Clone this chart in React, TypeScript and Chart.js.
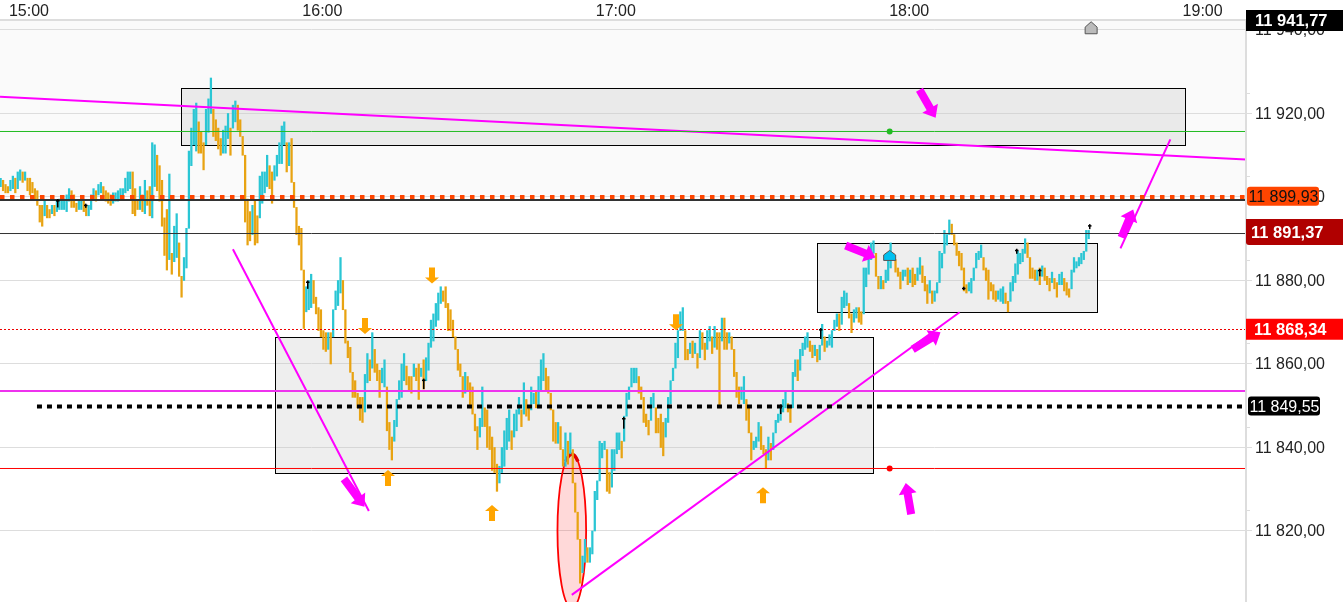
import React, { useEffect, useRef } from "react";
import { Chart, registerables } from "chart.js";

Chart.register(...registerables);

const FONT = '"Liberation Sans", Arial, sans-serif';

const timeTicks = [0, 60, 120, 180, 240];
const timeLabels = ["15:00", "16:00", "17:00", "18:00", "19:00"];
const priceTicks = [11820, 11840, 11860, 11880, 11900, 11920, 11940];
const priceLabels = ["11 820,00", "11 840,00", "11 860,00", "11 880,00", "11 900,00", "11 920,00", "11 940,00"];
const minorPriceTicks = [11825, 11845, 11865, 11885, 11905, 11925];

const sessionStarts = [-6, 60, 120, 180];
const barStep = 0.5;

// [high, low] per half-minute bar
const bars15: number[][] = [
[11904.5,11902.5],[11904,11901.5],[11903,11901],[11902.5,11901],[11904,11901.5],[11905,11902],[11904.5,11901],[11906,11902],[11906.5,11904],[11906,11903.5],
[11906,11904],[11904.5,11901.5],[11904.5,11900.5],[11903.5,11901],[11902,11899.5],[11901.5,11898],[11898,11894],[11898,11893],[11899,11895.5],[11898,11895],
[11897,11895],[11898,11896],[11898,11895.5],[11899,11896.5],[11899.5,11897],[11899.5,11897],[11899.5,11897],[11900.5,11896.5],[11902,11899],[11901.5,11897.5],
[11900.5,11897.5],[11898.5,11896.5],[11899,11897],[11899.5,11897],[11899,11896.5],[11898,11895.5],[11898,11895.5],[11900.5,11897],[11902,11899.5],[11901.5,11899],
[11903,11900.5],[11903.5,11901],[11902.5,11899.5],[11901.5,11899],[11901,11898.5],[11900.5,11898],[11901,11898.5],[11901,11899],[11901.5,11899],[11902,11899.5],
[11902,11899.5],[11904.5,11901],[11906,11901.5],[11906,11902],[11906,11896],[11902,11895.5],[11899,11897],[11902.5,11897],[11900.5,11896.5],[11904,11896],
[11901.5,11898],[11902.5,11895.5],[11913,11895],[11912.5,11902.5],[11910,11901.5],[11907.5,11899],[11904,11893],[11895,11886],[11897,11882.5],[11905.5,11885],
[11886.5,11881.5],[11893,11884.5],[11896,11885.5],[11889,11881],[11881,11876],[11885.5,11880],[11892.5,11883],[11911,11894.5],[11916.5,11907.5],[11921,11912.5],
[11922.5,11911],[11918,11910.5],[11915.5,11910.5],[11913,11906.5],[11921,11912.5],[11923.5,11915.5],[11928.5,11920],[11921,11914.5],[11918.5,11913.5],[11916.5,11911.5],
[11914,11910],[11916,11910.5],[11917,11910.5],[11920,11914],[11916.5,11910],[11922,11918.5],[11923,11918],[11922,11916],[11918.5,11914.5],[11913,11910],
[11907,11894],[11899.5,11888.5],[11896.5,11889.5],[11898,11891],[11899,11888.5],[11895.5,11889],[11905,11895],[11906,11898.5],[11906,11901],[11910,11902.5],
[11907.5,11902],[11906,11898.5],[11907.5,11904],[11910,11905],[11913,11908],[11917,11908],[11918,11912.5],[11913,11906],[11913,11907.5],[11914,11903.5],
[11903.5,11897.5],[11897,11891],[11893,11888.5],[11892.5,11882.5],[11878,11868.5],[11878.5,11872.5],[11880,11873],[11881.5,11873.5],[11880,11874.5],[11876,11872],
[11873.5,11868],[11873,11866.5],
];

const bars16: number[][] = [
[11868,11863.5],[11867.5,11863],[11867.5,11863.5],[11867.5,11860],[11873,11866.5],[11877.5,11873.5],[11880,11874],[11885.5,11877],[11880,11873],[11870.5,11865],
[11865.5,11861.5],[11864,11858],[11858,11852],[11856,11852],[11853,11849.5],[11852,11846.5],[11852,11846],[11857.5,11848.5],[11862.5,11855.5],[11861,11856],
[11867.5,11859],[11863.5,11858],[11860,11856],[11858.5,11852],[11859,11855.5],[11861,11854.5],[11853,11844],[11846,11839.5],[11842.5,11837],[11846.5,11841.5],
[11851.5,11845],[11856,11851.5],[11860,11852],[11862.5,11856],[11859.5,11855],[11857,11853.5],[11857,11853],[11860,11858],[11859,11856],[11860,11851.5],
[11859,11857],[11861,11854],[11861.5,11856],[11865,11858.5],[11870.5,11864],[11872,11865.5],[11874.5,11869],[11877,11870.5],[11878.5,11874.5],[11877.5,11875],
[11878.5,11873.5],[11874.5,11868],[11873,11868],[11870.5,11866.5],[11866.5,11863.5],[11863.5,11858.5],[11860,11857],[11856,11852],[11858,11853],[11857,11853.5],
[11855.5,11849.5],[11854.5,11848],[11848,11844],[11845,11839.5],[11847,11842.5],[11854.5,11845],[11849.5,11845],[11849,11840],[11845,11839.5],[11842.5,11834.5],
[11840,11834],[11836,11829.5],[11835.5,11831.5],[11840,11834],[11844,11835.5],[11847,11839.5],[11849,11841.5],[11844,11839.5],[11848,11842.5],[11849,11844],
[11852,11848],[11849,11845],[11855.5,11848],[11851.5,11847.5],[11849.5,11846.5],[11854.5,11849],[11853,11850.5],[11853.5,11849.5],[11857,11849.5],[11861,11853.5],
[11862.5,11856],[11859,11853.5],[11857,11853],[11853,11849],[11848,11841.5],[11846,11841],[11846,11841],[11845,11839.5],[11838.5,11835.5],[11843.5,11835.5],
[11841.5,11836],[11843.5,11838.5],[11839.5,11831.5],[11829.5,11824.5],[11821,11818],[11813,11807.5],[11814,11810],[11818,11812.5],[11816,11812.5],[11816,11812.5],
[11820,11814.5],[11829.5,11824.5],[11832,11827.5],[11841.5,11835.5],[11841,11837.5],[11841.5,11839.5],[11834.5,11829.5],[11834,11829],[11839.5,11830.5],[11839.5,11834.5],
];

const bars17: number[][] = [
[11843.5,11838.5],[11843.5,11839.5],[11841.5,11837.5],[11847.5,11845.5],[11853,11848],[11854.5,11851.5],[11859,11854.5],[11859,11855.5],[11859,11855.5],[11857,11853],
[11854.5,11851.5],[11852,11846],[11848,11845],[11846.5,11843],[11852,11848],[11853,11849.5],[11848,11843.5],[11847,11843.5],[11848,11840],[11846,11838],
[11847,11842.5],[11852,11846],[11856,11850.5],[11859,11856],[11865,11859],[11868,11861.5],[11872.5,11868.5],[11873.5,11868],[11867,11861],[11863.5,11861],
[11865,11862.5],[11865.5,11861.5],[11865,11862.5],[11861.5,11859],[11868,11864],[11867.5,11863.5],[11865,11861],[11868,11863.5],[11869,11865.5],[11866.5,11862.5],
[11869,11864],[11867.5,11863.5],[11867.5,11849.5],[11871,11865.5],[11871,11863.5],[11867.5,11863.5],[11867.5,11865],[11866.5,11863.5],[11863.5,11857],[11858,11852],
[11854.5,11850.5],[11854.5,11851.5],[11857,11850.5],[11851.5,11846.5],[11849.5,11843.5],[11842.5,11837],[11841.5,11839.5],[11842.5,11840],[11846,11841.5],[11845,11839.5],
[11840.5,11838.5],[11839.5,11835],[11842.5,11837],[11841,11837],[11843.5,11839.5],[11846.5,11844],[11848,11846],[11849.5,11846.5],[11851.5,11848.5],[11853.5,11849.5],
[11850.5,11848.5],[11849.5,11846],[11858,11855.5],[11861,11857],[11861,11856],[11863.5,11858.5],[11865,11862],[11866.5,11863.5],[11867.5,11864],[11865.5,11863],
[11864.5,11861.5],[11864.5,11862],[11863.5,11860.5],[11864.5,11861],[11869.5,11864.5],[11866.5,11863],[11865.5,11864],[11867,11864.5],[11868,11864],[11870.5,11868],
[11872,11869],[11872,11868],[11876,11869.5],[11877.5,11873.5],[11877,11874],[11874.5,11871],[11872,11867.5],[11873,11870],[11873.5,11871],[11873.5,11870],
[11872.5,11869.5],[11883,11872],[11883,11878.5],[11886.5,11881.5],[11889,11885],[11889.5,11886.5],[11883,11881],[11881,11878],[11881,11878],[11880,11878],
[11882.5,11879.5],[11885,11880],[11889,11883],[11886.5,11885],[11885,11882],[11883,11881],[11882,11878],[11882.5,11880],[11882.5,11881],[11883,11879],
];

const bars18: number[][] = [
[11882.5,11879.5],[11883,11878.5],[11881.5,11879],[11883,11880],[11885.5,11881.5],[11883.5,11879.5],[11881,11877.5],[11879,11874.5],[11880,11877],[11877.5,11874.5],
[11877.5,11875],[11879.5,11877],[11887,11881],[11886.5,11883],[11892,11887.5],[11891,11888.5],[11894.5,11891],[11893.5,11891],[11890,11888.5],[11889,11886],
[11887,11883.5],[11886.5,11882.5],[11883,11877.5],[11879,11877],[11879.5,11877.5],[11880.5,11877],[11883,11880],[11886.5,11884],[11887,11885],[11888.5,11885.5],
[11885.5,11882.5],[11883,11880],[11882.5,11875.5],[11879.5,11877.5],[11879,11875.5],[11877.5,11875],[11877.5,11875.5],[11878,11875],[11878.5,11874.5],[11877,11874.5],
[11875,11872.5],[11879.5,11875],[11881,11877.5],[11884,11879.5],[11887,11881.5],[11886.5,11884],[11887.5,11884.5],[11890,11886.5],[11889,11885.5],[11884,11880.5],
[11883,11880.5],[11882.5,11880],[11882.5,11880],[11883,11879],[11883.5,11881],[11883,11880],[11881,11879],[11880.5,11877.5],[11882,11879.5],[11880.5,11878],
[11879.5,11876],[11881.5,11879],[11882,11879],[11880.5,11877.5],[11879.5,11876.5],[11878,11876],[11882.5,11878.5],[11885.5,11882],[11884.5,11883],[11885.5,11883.5],
[11886.5,11884],[11887,11885],[11892,11889],[11892,11890],
];

const sessions = [bars15, bars16, bars17, bars18];

// Horizontal price levels
const greenLevel = 11915.69;
const closeLine = 11899.99;
const lastClosePrice = 11899.93;
const darkLevel = 11899.28;
const currentPrice = 11891.37;
const currentLine = 11891.25;
const pivotPrice = 11868.34;
const pivotLine = 11868.26;
const magentaLevel = 11853.53;
const blackDotPrice = 11849.82;
const redLevel = 11834.97;
const dotTime = 175.8;
const timeMin = -6.13;
const timeMax = 248.67;
const blackDotStart = 1.43;

// Trend lines: [time, price] pairs
const trendTop = [[timeMin, 11924], [timeMax, 11909]];
const trendFall = [[41.5, 11887.5], [69.3, 11824.8]];
const trendRise = [[110.8, 11804.7], [190.1, 11872.4]];
const trendStrike = [[223, 11887.7], [233.2, 11913.8]];

// Rectangles: [time from, time to, price high, price low]
const zones = [
  [30.9, 236.1, 11926.1, 11912.5],
  [50.1, 172.3, 11866.5, 11833.9],
  [160.9, 218.3, 11889, 11872.5],
];

// Ellipse: [time, price, time radius, price radius]
const ellipseMark = [110.8, 11820, 2.93, 18.4];

// Fat arrows: [time from, price from, time to, price to]
const fatArrows = [
  [181.9, 11925.7, 185.2, 11919],
  [64.2, 11832.5, 68.4, 11825.8],
  [166.8, 11888.4, 172.9, 11885.5],
  [180.2, 11824, 179.1, 11831.5],
  [180.5, 11863.5, 186.2, 11867.6],
  [223.2, 11890.3, 225.6, 11897],
];

// Orange signals: [time, tip price]
const downSignals = [[82.2, 11879.3], [68.5, 11867.2], [132.2, 11868.1]];
const upSignals = [[73.2, 11834.6], [94.4, 11826.2], [150, 11830.5]];

// Small black ticks: [time, top price, bottom price]
const blackTicks = [
  [5.5, 11899.5, 11897.5], [11.2, 11898.4, 11897.4], [56.6, 11880, 11878], [80.4, 11856.5, 11854],
  [121.2, 11847.3, 11844.5], [153.4, 11850.3, 11848], [161.5, 11868.6, 11866], [190.9, 11878.5, 11877.7],
  [201.7, 11887.6, 11886.4], [206.4, 11882.8, 11881], [216.5, 11893.5, 11892.3],
];

// House markers: [time, base price]
const greyHouse = [217, 11939.1];
const cyanHouse = [175.8, 11884.8];

// Right-hand price tags
const tagTop = { price: 11941.77, text: "11 941,77" };
const tagCurrent = { price: currentPrice, text: "11 891,37" };
const tagPivot = { price: pivotPrice, text: "11 868,34" };
const tagOrange = { price: lastClosePrice, text: "11 899,93" };
const tagBlack = { price: 11849.55, text: "11 849,55" };

const teal = "#2ac6d4";
const amber = "#e8a312";
const magenta = "#ff00ff";

function levelLine(label: string, price: number, color: string, width: number, dash: number[] = [], start = timeMin) {
  return {
    type: "line" as const,
    label,
    data: [{ x: start, y: price }, { x: timeMax, y: price }],
    borderColor: color,
    borderWidth: width,
    borderDash: dash,
    pointRadius: 0,
    order: 0,
  };
}

function trendLine(label: string, pts: number[][]) {
  return {
    type: "line" as const,
    label,
    data: pts.map(([x, y]) => ({ x, y })),
    borderColor: magenta,
    borderWidth: 2,
    pointRadius: 0,
    order: 0,
  };
}

function dot(label: string, price: number, color: string) {
  return {
    type: "line" as const,
    label,
    data: [{ x: dotTime, y: price }],
    showLine: false,
    pointRadius: 3,
    pointBorderWidth: 0,
    pointBackgroundColor: color,
    order: 0,
  };
}

const overlayPlugin = {
  id: "overlays",
  beforeDraw(chart: any) {
    const { ctx, chartArea: a, scales } = chart;
    const yTop = scales.y.getPixelForValue(lastClosePrice);
    ctx.save();
    ctx.fillStyle = "#fafafa";
    ctx.fillRect(a.left, a.top, a.right - a.left, yTop - a.top);
    ctx.restore();
  },
  beforeDatasetsDraw(chart: any) {
    const { ctx, chartArea: a, scales: { x, y } } = chart;
    ctx.save();
    ctx.beginPath();
    ctx.rect(a.left, a.top, a.right - a.left, a.bottom - a.top);
    ctx.clip();
    zones.forEach(([t0, t1, p0, p1]) => {
      const l = Math.round(x.getPixelForValue(t0)) + 0.5;
      const r = Math.round(x.getPixelForValue(t1)) + 0.5;
      const tp = Math.round(y.getPixelForValue(p0)) + 0.5;
      const bt = Math.round(y.getPixelForValue(p1)) + 0.5;
      ctx.fillStyle = "rgba(200,200,200,0.3)";
      ctx.fillRect(l, tp, r - l, bt - tp);
      ctx.strokeStyle = "#000";
      ctx.lineWidth = 1;
      ctx.strokeRect(l, tp, r - l, bt - tp);
    });
    const [et, ep, ert, erp] = ellipseMark;
    const cx = x.getPixelForValue(et);
    const cy = y.getPixelForValue(ep);
    const rx = Math.abs(x.getPixelForValue(et + ert) - cx);
    const ry = Math.abs(y.getPixelForValue(ep + erp) - cy);
    ctx.beginPath();
    ctx.ellipse(cx, cy, rx, ry, 0, 0, Math.PI * 2);
    ctx.fillStyle = "rgba(255,0,0,0.15)";
    ctx.fill();
    ctx.strokeStyle = "#f00";
    ctx.lineWidth = 1.8;
    ctx.stroke();
    ctx.beginPath();
    ctx.ellipse(cx, cy, rx, ry, 0, Math.PI * 1.36, Math.PI * 1.64);
    ctx.lineWidth = 3.5;
    ctx.strokeStyle = "#e00000";
    ctx.stroke();
    ctx.restore();
  },
  afterDatasetsDraw(chart: any) {
    const { ctx, chartArea: a, scales: { x, y } } = chart;
    ctx.save();
    ctx.beginPath();
    ctx.rect(a.left, a.top, a.right - a.left, a.bottom - a.top);
    ctx.clip();

    // fat magenta arrows
    fatArrows.forEach(([t0, p0, t1, p1]) => {
      const x0 = x.getPixelForValue(t0), y0 = y.getPixelForValue(p0);
      const x1 = x.getPixelForValue(t1), y1 = y.getPixelForValue(p1);
      const len = Math.hypot(x1 - x0, y1 - y0);
      const ux = (x1 - x0) / len, uy = (y1 - y0) / len;
      const nx = -uy, ny = ux;
      const sw = 4, hw = 9, hl = 11;
      const bx = x1 - ux * hl, by = y1 - uy * hl;
      ctx.beginPath();
      ctx.moveTo(x0 + nx * sw, y0 + ny * sw);
      ctx.lineTo(bx + nx * sw, by + ny * sw);
      ctx.lineTo(bx + nx * hw, by + ny * hw);
      ctx.lineTo(x1, y1);
      ctx.lineTo(bx - nx * hw, by - ny * hw);
      ctx.lineTo(bx - nx * sw, by - ny * sw);
      ctx.lineTo(x0 - nx * sw, y0 - ny * sw);
      ctx.closePath();
      ctx.fillStyle = magenta;
      ctx.fill();
    });

    // orange signal arrows
    const signal = (t: number, p: number, dir: number) => {
      const px = Math.round(x.getPixelForValue(t));
      const tip = y.getPixelForValue(p);
      ctx.fillStyle = "#ffa500";
      ctx.beginPath();
      ctx.moveTo(px, tip);
      ctx.lineTo(px - 7, tip + dir * 6);
      ctx.lineTo(px - 3, tip + dir * 6);
      ctx.lineTo(px - 3, tip + dir * 16);
      ctx.lineTo(px + 3, tip + dir * 16);
      ctx.lineTo(px + 3, tip + dir * 6);
      ctx.lineTo(px + 7, tip + dir * 6);
      ctx.closePath();
      ctx.fill();
    };
    downSignals.forEach(([t, p]) => signal(t, p, -1));
    upSignals.forEach(([t, p]) => signal(t, p, 1));

    // black ticks
    ctx.fillStyle = "#000";
    blackTicks.forEach(([t, p0, p1]) => {
      const px = Math.round(x.getPixelForValue(t));
      const yt = y.getPixelForValue(p0);
      const yb = y.getPixelForValue(p1);
      ctx.fillRect(px, yt, 1.5, yb - yt);
      ctx.fillRect(px - 1, yt + 1, 3.5, 1.5);
    });

    // houses
    const house = ([t, p]: number[], fill: string, w: number, h: number) => {
      const px = x.getPixelForValue(t);
      const base = y.getPixelForValue(p);
      ctx.beginPath();
      ctx.moveTo(px - w, base);
      ctx.lineTo(px - w, base - h * 0.55);
      ctx.lineTo(px, base - h);
      ctx.lineTo(px + w, base - h * 0.55);
      ctx.lineTo(px + w, base);
      ctx.closePath();
      ctx.fillStyle = fill;
      ctx.fill();
      ctx.strokeStyle = "#555";
      ctx.lineWidth = 1;
      ctx.stroke();
    };
    house(greyHouse, "#bbbbbb", 6, 12);
    house(cyanHouse, "#00c0f0", 6, 10);
    ctx.restore();
  },
  afterDraw(chart: any) {
    const { ctx, chartArea: a, scales: { y } } = chart;
    ctx.save();
    // axis frame and minor ticks
    ctx.strokeStyle = "#dddddd";
    ctx.lineWidth = 2;
    ctx.beginPath();
    ctx.moveTo(a.left, a.top);
    ctx.lineTo(a.right, a.top);
    ctx.moveTo(a.right, a.top);
    ctx.lineTo(a.right, a.bottom);
    ctx.stroke();
    ctx.lineWidth = 1;
    minorPriceTicks.forEach((p) => {
      const py = Math.round(y.getPixelForValue(p)) + 0.5;
      ctx.beginPath();
      ctx.moveTo(a.right, py);
      ctx.lineTo(a.right + 4, py);
      ctx.stroke();
    });

    const tag = (
      t: { price: number; text: string }, fill: string, color: string, font: string,
      left: number, right: number, h: number, tx: number, r: number[] | number, dy = 0,
    ) => {
      const py = y.getPixelForValue(t.price) + dy;
      ctx.fillStyle = fill;
      ctx.beginPath();
      ctx.roundRect(a.right + left, py - h / 2, right - left, h, r);
      ctx.fill();
      ctx.fillStyle = color;
      ctx.font = font;
      ctx.textAlign = "left";
      ctx.textBaseline = "middle";
      ctx.fillText(t.text, a.right + tx, py + 1);
    };
    const bold = `bold 16.5px ${FONT}`;
    const plain = `16px ${FONT}`;
    tag(tagOrange, "#ff4500", "#111", plain, 1, 73, 19, 2.5, 3, -1);
    tag(tagBlack, "#000", "#fff", plain, 2, 74, 19, 3.5, 3, -1.5);
    tag(tagPivot, "#ff0000", "#fff", bold, 0, 97, 21, 8, 0);
    tag(tagCurrent, "#b00000", "#fff", bold, 0, 97, 26, 5, [0, 0, 0, 3], -1);
    tag(tagTop, "#000", "#fff", bold, 0, 97, 21, 9, 0, -2);
    ctx.restore();
  },
};

export default function App() {
  const ref = useRef<HTMLCanvasElement>(null);
  useEffect(() => {
    document.body.style.margin = "0";
    const points: { x: number; y: number[] }[] = [];
    sessions.forEach((bars, s) => {
      bars.forEach(([hi, lo], k) => points.push({ x: sessionStarts[s] + k * barStep, y: [lo, hi] }));
    });
    const colors = points.map((pt, i) => {
      const mid = (pt.y[0] + pt.y[1]) / 2;
      const prev = i > 0 ? (points[i - 1].y[0] + points[i - 1].y[1]) / 2 : mid;
      return mid >= prev ? teal : amber;
    });
    // each bar opens where the one before it closed, so fast moves have no gaps
    const joined = points.map((pt, i) => {
      if (i === 0) return pt;
      const prev = points[i - 1].y;
      return { x: pt.x, y: [Math.min(pt.y[0], prev[1]), Math.max(pt.y[1], prev[0])] };
    });
    const zeroPadding = (axis: any) => {
      axis.paddingLeft = 0;
      axis.paddingRight = 0;
      axis.paddingTop = 0;
      axis.paddingBottom = 0;
    };
    const chart = new Chart(ref.current as HTMLCanvasElement, {
      type: "bar",
      data: {
        datasets: [
          { type: "bar", label: "price", data: joined as any, backgroundColor: colors, borderWidth: 0, barThickness: 1.6, order: 1 } as any,
          levelLine("close", closeLine, "#ff4500", 4, [4.5, 5.5]),
          levelLine("dark", darkLevel, "#333333", 2),
          levelLine("green", greenLevel, "#22bb22", 1),
          levelLine("current", currentLine, "#333333", 1),
          levelLine("pivot", pivotLine, "#ee0000", 1, [2, 2]),
          levelLine("magenta", magentaLevel, "#ee33ee", 2),
          levelLine("blackDots", blackDotPrice, "#000000", 4, [5, 5], blackDotStart),
          levelLine("red", redLevel, "#ff0000", 1),
          trendLine("trendTop", trendTop),
          trendLine("trendFall", trendFall),
          trendLine("trendRise", trendRise),
          trendLine("trendStrike", trendStrike),
          dot("greenDot", greenLevel, "#22bb22"),
          dot("redDot", redLevel, "#ff0000"),
        ] as any,
      },
      options: {
        animation: false,
        responsive: false,
        maintainAspectRatio: false,
        layout: { padding: 0, autoPadding: false },
        plugins: { legend: { display: false }, tooltip: { enabled: false } },
        scales: {
          x: {
            type: "linear",
            position: "top",
            min: timeMin,
            max: timeMax,
            offset: false,
            afterBuildTicks: (axis: any) => { axis.ticks = timeTicks.map((value) => ({ value })); },
            afterFit: (axis: any) => { axis.height = 20; zeroPadding(axis); },
            grid: { display: false, drawTicks: false },
            border: { display: false },
            ticks: {
              autoSkip: false,
              maxRotation: 0,
              padding: -1,
              labelOffset: -1,
              color: "#222",
              font: { family: FONT, size: 16 },
              callback: (v: any) => timeLabels[timeTicks.indexOf(Number(v))],
            },
          },
          y: {
            type: "linear",
            position: "right",
            min: 11802.99,
            max: 11942.395,
            afterBuildTicks: (axis: any) => { axis.ticks = priceTicks.map((value) => ({ value })); },
            afterFit: (axis: any) => { axis.width = 97; zeroPadding(axis); },
            grid: { color: "#dddddd", lineWidth: 1, tickLength: 6 },
            border: { display: false },
            ticks: {
              autoSkip: false,
              padding: 3,
              labelOffset: 1,
              crossAlign: "near",
              color: "#222",
              font: { family: FONT, size: 16 },
              callback: (v: any) => priceLabels[priceTicks.indexOf(Number(v))],
            },
          },
        },
      } as any,
      plugins: [overlayPlugin],
    });
    return () => chart.destroy();
  }, []);
  return <canvas ref={ref} width={1343} height={602} style={{ display: "block" }} />;
}
